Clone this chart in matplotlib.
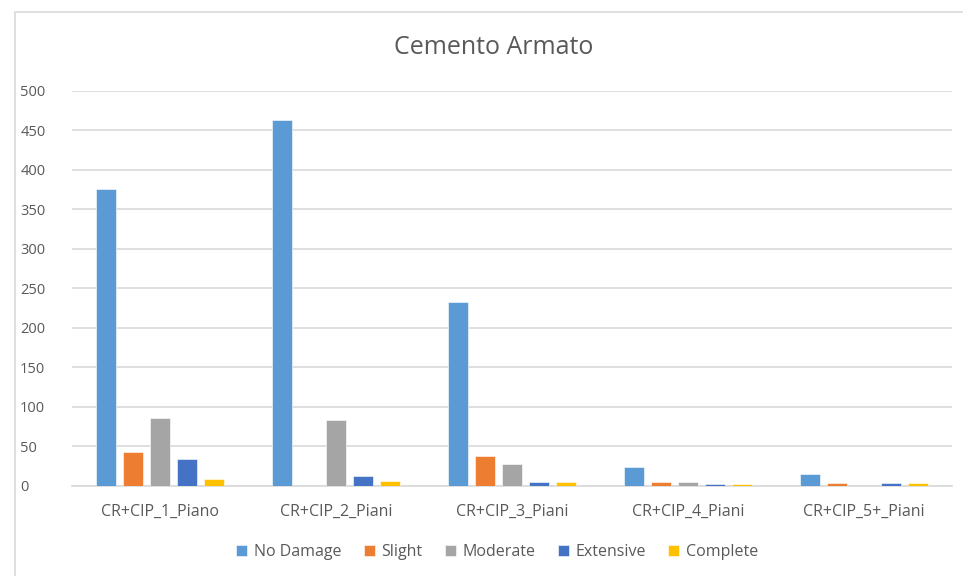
import numpy as np
import matplotlib.pyplot as plt
from matplotlib.patches import Rectangle

# Numero di edifici per classe di danno, calcestruzzo armato
categorie = ["CR+CIP_1_Piano", "CR+CIP_2_Piani", "CR+CIP_3_Piani", "CR+CIP_4_Piani", "CR+CIP_5+_Piani"]
no_damage = [376, 463, 232, 24, 15]
slight = [43, 0, 37, 5, 3]
moderate = [86, 83, 27, 5, 0]
extensive = [33, 12, 5, 2.5, 3]
complete = [8.5, 5.5, 5, 2.5, 3]

serie = [
    ("No Damage", no_damage, "#5b9bd5"),
    ("Slight", slight, "#ed7d31"),
    ("Moderate", moderate, "#a5a5a5"),
    ("Extensive", extensive, "#4472c4"),
    ("Complete", complete, "#ffc000"),
]

plt.rcParams["font.family"] = ["Open Sans", "DejaVu Sans"]
testo = "#595959"

fig = plt.figure(figsize=(9.63, 5.76), dpi=100)
W, H = 963, 576

# cornice del grafico
fig.patches.append(Rectangle((15 / W, -0.1), 1, 1.1 - 12 / H, transform=fig.transFigure,
                             fill=False, edgecolor="#d9d9d9", linewidth=1.2))

sx, dx = 72, 952
ax = fig.add_axes([sx / W, (H - 485.5) / H, (dx - sx) / W, (485.5 - 91) / H])

x = np.arange(len(categorie))
slot = 0.153
larghezza = 0.114
for i, (nome, valori, colore) in enumerate(serie):
    ax.bar(x + (i - 2) * slot, valori, width=larghezza, color=colore, label=nome,
           edgecolor="white", linewidth=0.4, zorder=3)

ax.set_xlim(-0.5, len(categorie) - 0.5)
ax.set_ylim(0, 500)
ax.set_yticks(range(0, 501, 50))
ax.yaxis.grid(True, color="#d9d9d9", linewidth=1.2, zorder=0)
ax.set_xticks(x)
ax.set_xticklabels(categorie)
ax.tick_params(axis="both", length=0, colors=testo)
ax.tick_params(axis="x", pad=13, labelsize=11.5)
ax.tick_params(axis="y", labelsize=10.5)
for lato in ["top", "right", "left"]:
    ax.spines[lato].set_visible(False)
ax.spines["bottom"].set_color("#d9d9d9")
ax.spines["bottom"].set_linewidth(1.2)
for lab in ax.get_yticklabels():
    lab.set_horizontalalignment("left")
    lab.set_x(-(sx - 25) / (dx - sx))

fig.text(494 / W, 1 - 47 / H, "Cemento Armato", ha="center", va="center",
         fontsize=18, color=testo)

fig.legend(loc="center", bbox_to_anchor=(497 / W, 1 - 552 / H), ncol=5, frameon=False,
           fontsize=11.5, labelcolor=testo, handlelength=0.7, handleheight=0.7,
           handletextpad=0.4, columnspacing=1.4)

fig.savefig("out.png", dpi=100)
